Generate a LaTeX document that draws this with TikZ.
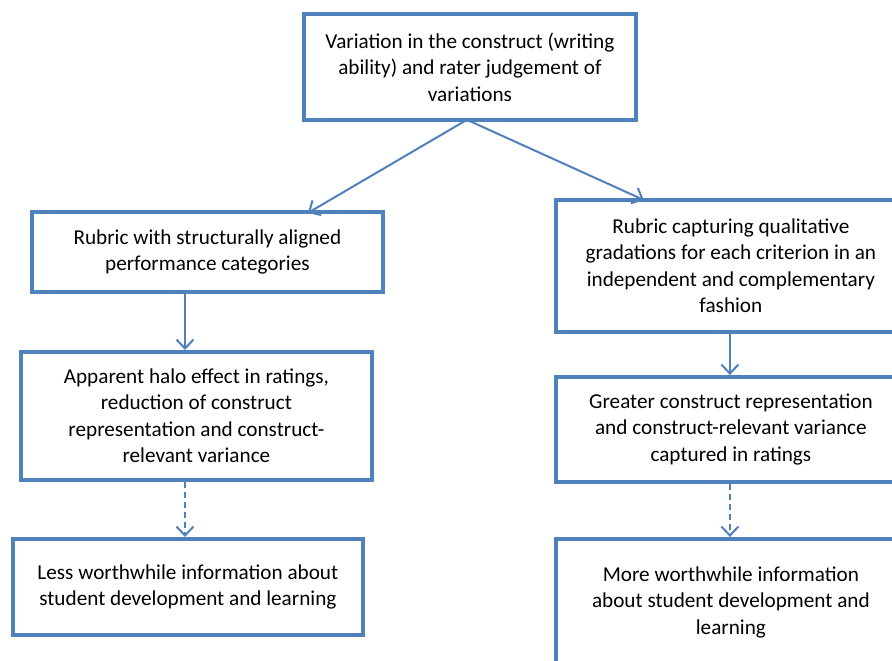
\documentclass[tikz,border=0pt]{standalone}
\usepackage{fontspec}
\setmainfont{Carlito}
\usepackage{tikz}
\usetikzlibrary{calc,arrows.meta}

\definecolor{boxblue}{RGB}{79,129,189}

\tikzset{
    flowbox/.style={draw=boxblue, line width=3.8pt, fill=white, anchor=north west,
        align=center, inner sep=0pt, font=\fontsize{21.2}{26.5}\selectfont},
    flowarrow/.style={draw=boxblue, line width=2pt,
        -{Straight Barb[length=9pt, width=17pt, line width=2pt]}},
    dasharrow/.style={flowarrow, dash pattern=on 6pt off 4pt}
}

\begin{document}
\begin{tikzpicture}[x=1pt, y=-1pt]
    \useasboundingbox (0,0) rectangle (892,661);
    \clip (0,0) rectangle (892,661);
    \fill[white] (0,0) rectangle (892,661);

    % top
    \node[flowbox, minimum width=332pt, minimum height=106pt] (construct) at (302,12)
    {Variation in the construct (writing\\ ability) and rater judgement of\\ variations};

    % left column
    \node[flowbox, minimum width=351pt, minimum height=80pt] (aligned) at (30,210)
    {Rubric with structurally aligned\\ performance categories};
    \node[flowbox, minimum width=351pt, minimum height=128pt] (halo) at (19,350)
    {Apparent halo effect in ratings,\\ reduction of construct\\ representation and construct-\\ relevant variance};
    \node[flowbox, minimum width=350pt, minimum height=96pt] (less) at (11,537)
    {Less worthwhile information about\\ student development and learning};

    % right column
    \node[flowbox, minimum width=350pt, minimum height=132pt] (gradations) at (554,198)
    {Rubric capturing qualitative\\ gradations for each criterion in an\\ independent and complementary\\ fashion};
    \node[flowbox, minimum width=350pt, minimum height=105pt] (greater) at (554,375)
    {Greater construct representation\\ and construct-relevant variance\\ captured in ratings};
    \node[flowbox, minimum width=350pt, minimum height=127pt] (more) at (554,537)
    {More worthwhile information\\ about student development and\\ learning};

    % connectors
    \coordinate (lx) at (185,0);
    \draw[flowarrow] ($(construct.south)+(-3pt,2pt)$) -- ($(aligned.north west)!0.783!(aligned.north east)+(0,-3pt)$);
    \draw[flowarrow] ($(construct.south)+(-3pt,2pt)$) -- ($(gradations.north west)!0.254!(gradations.north east)+(0,-2pt)$);
    \draw[flowarrow] (aligned.south -| lx) -- (halo.north -| lx);
    \draw[flowarrow] ($(gradations.south)+(-1pt,0)$) -- ($(greater.north)+(-1pt,0)$);
    \draw[dasharrow] (halo.south -| lx) -- (less.north -| lx);
    \draw[dasharrow] ($(greater.south)+(-1pt,0)$) -- ($(more.north)+(-1pt,0)$);

\end{tikzpicture}
\end{document}
